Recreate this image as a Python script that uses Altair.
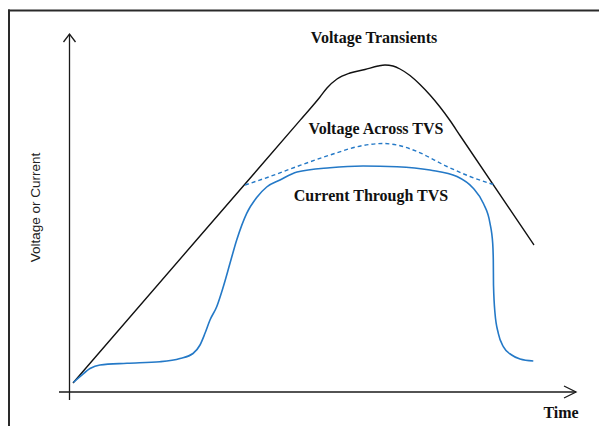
import altair as alt
import pandas as pd

# ---- data (time units t, value units v) ----
# Voltage transient (black)
vt_t = [3, 130, 230, 250, 257, 267, 280, 295, 308, 315, 323, 330, 340, 350, 360, 370, 380, 390, 464]
vt_v = [9, 156, 271.6, 295, 304, 313, 319, 322.5, 326, 327, 326, 323, 316.5, 307.5, 297, 285, 271.5, 256.5, 147]

# Voltage across TVS (blue dashed)
va_t = [175, 200, 227, 260, 293, 313, 327, 347, 377, 400, 425]
va_v = [207, 215.5, 225.5, 237, 246.5, 248.5, 247, 240.5, 225.5, 215.5, 207]

# Current through TVS (blue solid)
ci_t = [3.3, 10, 20, 30, 57, 90, 110, 123, 130, 135, 140, 146.7, 153.3, 160, 166.7, 176.7,
        186.7, 196.7, 210, 227, 260, 293, 327, 360, 387, 403, 413.3, 420, 422.7, 423.3,
        423.5, 425, 428.3, 433.3, 441.7, 450, 463.3]
ci_v = [9.5, 15.3, 23.5, 27, 28.7, 30.3, 33.5, 38.5, 47, 58.7, 72, 85.3, 105.3, 128.7, 152, 178.7,
        194.5, 205, 212, 220, 224.3, 226, 225.3, 222, 215.5, 204, 188.7, 168.7, 148.7, 132,
        107, 78.7, 58.7, 45.3, 37, 33, 31]

labels = ["Voltage Transients", "Voltage Across TVS", "Current Through TVS", "Time"]
label_t = [304, 306, 301, 491]
label_v = [349, 258, 191, -26]

ylabel = "Voltage or Current"

X_DOMAIN = [-62, 529]
Y_DOMAIN = [-34, 384]

xs = alt.Scale(domain=X_DOMAIN, nice=False, zero=False)
ys = alt.Scale(domain=Y_DOMAIN, nice=False, zero=False)


def df(ts, vs):
    return pd.DataFrame({"t": ts, "v": vs, "i": list(range(len(ts)))})


def enc(ch):
    return ch.encode(
        x=alt.X("t:Q", scale=xs, axis=None),
        y=alt.Y("v:Q", scale=ys, axis=None),
        order=alt.Order("i:Q"),
    )


BLUE = "#2479c7"
AXIS = "#1a1a1a"

transient = enc(alt.Chart(df(vt_t, vt_v)).mark_line(
    color="#111111", strokeWidth=1.4, interpolate="monotone"))
across = enc(alt.Chart(df(va_t, va_v)).mark_line(
    color=BLUE, strokeWidth=1.4, strokeDash=[4, 3], interpolate="monotone"))
current = enc(alt.Chart(df(ci_t, ci_v)).mark_line(
    color=BLUE, strokeWidth=1.6, interpolate="monotone"))

# axes lines and arrowheads
y_axis = enc(alt.Chart(df([-0.5, -0.5], [-8, 358])).mark_line(color=AXIS, strokeWidth=1.3))
x_axis = enc(alt.Chart(df([-11, 506], [0, 0])).mark_line(color=AXIS, strokeWidth=1.3))
arrow_y = enc(alt.Chart(df([-6.5, -0.5, 5.5], [350, 358, 350])).mark_line(
    color=AXIS, strokeWidth=1.3))
arrow_x = enc(alt.Chart(df([494, 506, 494], [6, 0, -6])).mark_line(
    color=AXIS, strokeWidth=1.3))

# frame (top and left edges)
frame_top = enc(alt.Chart(df([-62, 529], [381.5, 381.5])).mark_line(
    color="#2a2a2a", strokeWidth=2.2))
frame_left = enc(alt.Chart(df([-61, -61], [-34, 382.6])).mark_line(
    color="#2a2a2a", strokeWidth=2))

texts = alt.Chart(pd.DataFrame({"t": label_t, "v": label_v, "label": labels})).mark_text(
    font="Liberation Serif", fontWeight="bold", fontSize=16, align="center",
    baseline="alphabetic", color="#111111").encode(
    x=alt.X("t:Q", scale=xs, axis=None), y=alt.Y("v:Q", scale=ys, axis=None), text="label:N")

ytitle = alt.Chart(pd.DataFrame({"t": [-30.5], "v": [184.5], "label": [ylabel]})).mark_text(
    font="Liberation Sans", fontSize=13.5, align="center", baseline="alphabetic",
    angle=270, color="#222222").encode(
    x=alt.X("t:Q", scale=xs, axis=None), y=alt.Y("v:Q", scale=ys, axis=None), text="label:N")

chart = alt.layer(frame_top, frame_left, y_axis, x_axis, arrow_y, arrow_x,
                  transient, across, current, texts, ytitle).properties(
    width=591, height=418, padding=0, autosize=alt.AutoSizeParams(type="none"),
    background="white",
).configure_view(stroke=None)

chart.save("out.html", embed_options={"renderer": "svg", "actions": False})
